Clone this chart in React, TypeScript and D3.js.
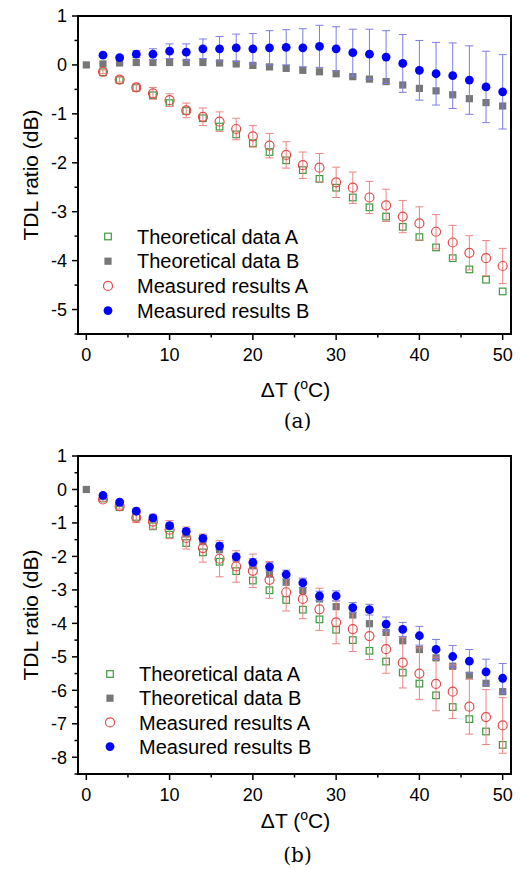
import React from 'react';
import * as d3 from 'd3';

// temperature steps (deg C)
const tempsAll = [0, 2, 4, 6, 8, 10, 12, 14, 16, 18, 20, 22, 24, 26, 28, 30, 32, 34, 36, 38, 40, 42, 44, 46, 48, 50];
const temps = [2, 4, 6, 8, 10, 12, 14, 16, 18, 20, 22, 24, 26, 28, 30, 32, 34, 36, 38, 40, 42, 44, 46, 48, 50];

// panel (a)
const theoA_a = [-0.15, -0.31, -0.47, -0.62, -0.78, -0.94, -1.09, -1.26, -1.42, -1.6, -1.78, -1.95, -2.15, -2.33, -2.51, -2.71, -2.91, -3.1, -3.31, -3.52, -3.73, -3.95, -4.18, -4.39, -4.63];
const theoB_a = [0, 0.02, 0.04, 0.05, 0.05, 0.05, 0.05, 0.05, 0.04, 0.02, -0.01, -0.04, -0.07, -0.11, -0.14, -0.18, -0.24, -0.29, -0.34, -0.41, -0.48, -0.53, -0.61, -0.69, -0.77, -0.84];
const measA_a = [-0.14, -0.3, -0.46, -0.58, -0.72, -0.93, -1.06, -1.16, -1.31, -1.46, -1.65, -1.84, -2.05, -2.1, -2.4, -2.51, -2.71, -2.87, -3.1, -3.24, -3.41, -3.63, -3.84, -3.95, -4.11];
const errA_a = [0.04, 0.05, 0.07, 0.12, 0.13, 0.15, 0.18, 0.2, 0.22, 0.22, 0.25, 0.27, 0.27, 0.29, 0.31, 0.32, 0.33, 0.33, 0.33, 0.34, 0.35, 0.35, 0.35, 0.36, 0.36];
const measB_a = [0.2, 0.15, 0.22, 0.22, 0.28, 0.26, 0.33, 0.33, 0.35, 0.33, 0.35, 0.36, 0.35, 0.38, 0.33, 0.25, 0.22, 0.16, 0.03, -0.11, -0.18, -0.22, -0.31, -0.45, -0.55];
const errB_a = [0.03, 0.04, 0.07, 0.11, 0.15, 0.17, 0.2, 0.25, 0.28, 0.31, 0.35, 0.36, 0.39, 0.43, 0.45, 0.48, 0.51, 0.54, 0.59, 0.61, 0.64, 0.67, 0.7, 0.73, 0.76];

// panel (b)
const theoA_b = [-0.27, -0.53, -0.82, -1.1, -1.35, -1.6, -1.88, -2.16, -2.44, -2.72, -3.01, -3.3, -3.59, -3.88, -4.19, -4.5, -4.82, -5.14, -5.47, -5.8, -6.15, -6.5, -6.86, -7.23, -7.63];
const theoB_b = [0, -0.2, -0.42, -0.65, -0.88, -1.1, -1.33, -1.56, -1.8, -2.05, -2.28, -2.53, -2.77, -3.02, -3.27, -3.5, -3.75, -4.01, -4.27, -4.52, -4.78, -5.03, -5.28, -5.55, -5.79, -6.04];
const measA_b = [-0.3, -0.5, -0.84, -0.96, -1.2, -1.45, -1.75, -2.07, -2.3, -2.43, -2.7, -3.07, -3.27, -3.58, -3.97, -4.17, -4.38, -4.77, -5.17, -5.5, -5.81, -6.04, -6.49, -6.8, -7.05];
const errA_b = [0.05, 0.08, 0.15, 0.22, 0.27, 0.33, 0.42, 0.54, 0.47, 0.5, 0.55, 0.56, 0.59, 0.63, 0.64, 0.67, 0.7, 0.72, 0.76, 0.77, 0.8, 0.8, 0.82, 0.82, 0.83];
const measB_b = [-0.18, -0.38, -0.65, -0.85, -1.08, -1.25, -1.46, -1.69, -2.01, -2.18, -2.31, -2.54, -2.79, -3.18, -3.18, -3.53, -3.59, -4.02, -4.18, -4.37, -4.78, -4.99, -5.13, -5.45, -5.64];
const errB_b = [0.03, 0.04, 0.05, 0.06, 0.07, 0.08, 0.09, 0.1, 0.1, 0.11, 0.12, 0.13, 0.14, 0.14, 0.15, 0.15, 0.16, 0.21, 0.21, 0.28, 0.3, 0.33, 0.35, 0.38, 0.44];

const xMajor = [0, 10, 20, 30, 40, 50];
const xMinor = [5, 15, 25, 35, 45];
const yMajor_a = [1, 0, -1, -2, -3, -4, -5];
const yMinor_a = [0.5, -0.5, -1.5, -2.5, -3.5, -4.5, -5.5];
const yMajor_b = [1, 0, -1, -2, -3, -4, -5, -6, -7, -8];
const yMinor_b = [0.5, -0.5, -1.5, -2.5, -3.5, -4.5, -5.5, -6.5, -7.5, -8.5];

const legendLabels = ['Theoretical data A', 'Theoretical data B', 'Measured results A', 'Measured results B'];

const GREEN = '#3f9a3f';
const GRAY = '#777777';
const RED = '#e34a4a';
const RED_BAR = '#ec8585';
const BLUE = '#0000ff';
const BLUE_BAR = '#7d7de6';
const SANS = '"Liberation Sans", Arial, sans-serif';

function Marker({ kind, x, y }) {
  if (kind === 0) return <rect x={x - 3.3} y={y - 3.3} width={6.6} height={6.6} fill="none" stroke={GREEN} strokeWidth={1.2} />;
  if (kind === 1) return <rect x={x - 3.6} y={y - 3.6} width={7.2} height={7.2} fill={GRAY} />;
  if (kind === 2) return <circle cx={x} cy={y} r={4.5} fill="none" stroke={RED} strokeWidth={1.2} />;
  return <circle cx={x} cy={y} r={4.4} fill={BLUE} />;
}

function Panel({ top, bottom, yDomain, yMajor, yMinor, theoA, theoB, measA, errA, measB, errB, legendX, legendY, legendStep, tag, titleY, tagY }) {
  const left = 78, right = 511;
  const x = d3.scaleLinear().domain([-1, 51]).range([left, right]);
  const y = d3.scaleLinear().domain(yDomain).range([bottom, top]);
  const cx = (left + right) / 2;

  const errBars = (vals, errs, color) =>
    vals.map((v, i) => {
      const px = x(temps[i]);
      const y1 = y(v + errs[i]);
      const y2 = y(v - errs[i]);
      return (
        <g key={i} stroke={color} strokeWidth={1}>
          <line x1={px} x2={px} y1={y1} y2={y2} />
          <line x1={px - 4} x2={px + 4} y1={y1} y2={y1} />
          <line x1={px - 4} x2={px + 4} y1={y2} y2={y2} />
        </g>
      );
    });

  return (
    <g>
      {/* data */}
      {theoA.map((v, i) => <Marker key={'ta' + i} kind={0} x={x(temps[i])} y={y(v)} />)}
      {theoB.map((v, i) => <Marker key={'tb' + i} kind={1} x={x(tempsAll[i])} y={y(v)} />)}
      {errBars(measA, errA, RED_BAR)}
      {measA.map((v, i) => <Marker key={'ma' + i} kind={2} x={x(temps[i])} y={y(v)} />)}
      {errBars(measB, errB, BLUE_BAR)}
      {measB.map((v, i) => <Marker key={'mb' + i} kind={3} x={x(temps[i])} y={y(v)} />)}

      {/* frame */}
      <rect x={left} y={top} width={right - left} height={bottom - top} fill="none" stroke="#000" strokeWidth={2} />

      {/* x ticks */}
      {xMajor.map((t) => (
        <g key={'xm' + t}>
          <line x1={x(t)} x2={x(t)} y1={bottom} y2={bottom + 6} stroke="#000" strokeWidth={1.5} />
          <text x={x(t)} y={bottom + 27} textAnchor="middle" fontFamily={SANS} fontSize={18}>{t}</text>
        </g>
      ))}
      {xMinor.map((t) => (
        <line key={'xn' + t} x1={x(t)} x2={x(t)} y1={bottom} y2={bottom + 3.5} stroke="#000" strokeWidth={1.5} />
      ))}

      {/* y ticks */}
      {yMajor.map((t) => (
        <g key={'ym' + t}>
          <line x1={left - 6} x2={left} y1={y(t)} y2={y(t)} stroke="#000" strokeWidth={1.5} />
          <text x={left - 11} y={y(t)} dy="0.36em" textAnchor="end" fontFamily={SANS} fontSize={18}>{t}</text>
        </g>
      ))}
      {yMinor.map((t) => (
        <line key={'yn' + t} x1={left - 3.5} x2={left} y1={y(t)} y2={y(t)} stroke="#000" strokeWidth={1.5} />
      ))}

      {/* axis titles */}
      <text transform={`translate(38,${(top + bottom) / 2}) rotate(-90)`} textAnchor="middle" fontFamily={SANS} fontSize={21}>TDL ratio (dB)</text>
      <text x={cx + 1} y={titleY} textAnchor="middle" fontFamily={SANS} fontSize={21}>
        ΔT (<tspan fontSize={14} dy={-8}>o</tspan><tspan dy={8}>C)</tspan>
      </text>
      <text x={cx + 3} y={tagY} textAnchor="middle" fontFamily='"DejaVu Serif", serif' fontSize={20}>{tag}</text>

      {/* legend */}
      {legendLabels.map((lab, i) => (
        <g key={lab}>
          <Marker kind={i} x={legendX} y={legendY + i * legendStep} />
          <text x={legendX + 29} y={legendY + i * legendStep} dy="0.36em" fontFamily={SANS} fontSize={20}>{lab}</text>
        </g>
      ))}
    </g>
  );
}

export default function App() {
  return (
    <div style={{ position: 'absolute', left: 0, top: 0, background: '#fff' }}>
      <svg width={520} height={869} style={{ display: 'block' }}>
        <rect width={520} height={869} fill="#fff" />
        <Panel top={16} bottom={334} yDomain={[-5.5, 1]} yMajor={yMajor_a} yMinor={yMinor_a}
          theoA={theoA_a} theoB={theoB_a} measA={measA_a} errA={errA_a} measB={measB_a} errB={errB_a}
          legendX={108} legendY={236.5} legendStep={24.7} tag="(a)" titleY={397} tagY={428} />
        <Panel top={456} bottom={774} yDomain={[-8.5, 1]} yMajor={yMajor_b} yMinor={yMinor_b}
          theoA={theoA_b} theoB={theoB_b} measA={measA_b} errA={errA_b} measB={measB_b} errB={errB_b}
          legendX={110} legendY={674} legendStep={24.2} tag="(b)" titleY={828} tagY={862} />
      </svg>
    </div>
  );
}
